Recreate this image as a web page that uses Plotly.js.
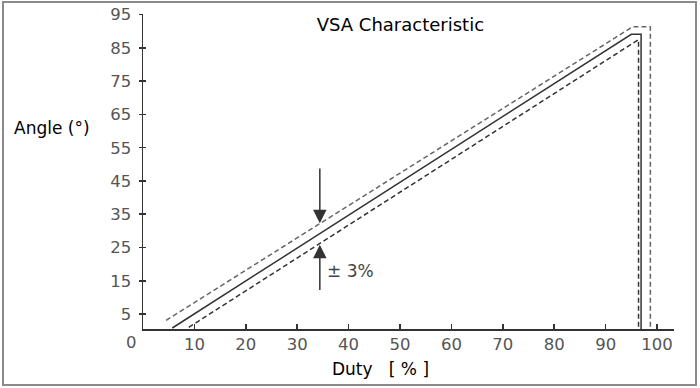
<!DOCTYPE html>
<html>
<head>
<meta charset="utf-8">
<script src="https://cdn.plot.ly/plotly-3.0.1.min.js"></script>
<style>
  html, body { margin: 0; padding: 0; background: #fff; }
  #wrap { position: relative; width: 700px; height: 388px; }
  #chart { width: 700px; height: 388px; }
  #frame { position: absolute; left: 2px; top: 1px; width: 695px; height: 385px;
           box-sizing: border-box; border: 2px solid #8a8a8a; pointer-events: none; }
</style>
</head>
<body>
<div id="wrap"><div id="chart"></div><div id="frame"></div></div>
<script>
// ---- data ----
const centerX = [5.7, 95.0, 96.9, 96.9];
const centerY = [0.8, 89.1, 89.1, 0.5];
const upperX  = [4.5, 95.3, 98.7, 98.7];
const upperY  = [3.1, 91.4, 91.4, 0.5];
const lowerX  = [8.9, 96.4, 96.4];
const lowerY  = [1.0, 87.5, 0.5];

const xTickVals = [10, 20, 30, 40, 50, 60, 70, 80, 90, 100];
const yTickVals = [5, 15, 25, 35, 45, 55, 65, 75, 85, 95];

const arrowX = 34.4;
const arrowDownFrom = 49.2, arrowDownTo = 32.3;
const arrowUpFrom = 11.8, arrowUpTo = 25.8;
const tolLabel = '± 3%';
const tolLabelX = 35.4, tolLabelY = 17.8;

const titleText = 'VSA Characteristic';
const xTitle = 'Duty\u00a0\u00a0\u00a0[ % ]';
const yTitle = 'Angle (°)';
const originLabel = '0';

const FONT = 'DejaVu Sans, Verdana, sans-serif';

const traces = [
  { x: upperX, y: upperY, mode: 'lines', line: { color: '#666', width: 1.5, dash: '5px,3px' }, hoverinfo: 'skip' },
  { x: lowerX, y: lowerY, mode: 'lines', line: { color: '#333', width: 1.5, dash: '5px,3px' }, hoverinfo: 'skip' },
  { x: centerX, y: centerY, mode: 'lines', line: { color: '#333', width: 1.5 }, hoverinfo: 'skip' },
  { x: [null], y: [null], yaxis: 'y2', mode: 'lines', hoverinfo: 'skip' }
];

const yRange = [0.5, 95.2];

const layout = {
  width: 700, height: 388,
  margin: { l: 142.7, r: 26, t: 13.7, b: 58.7 },
  paper_bgcolor: '#fff', plot_bgcolor: '#fff',
  showlegend: false,
  font: { family: FONT, color: '#000' },
  title: {
    text: titleText,
    font: { family: FONT, size: 18, color: '#000' },
    xref: 'container', x: 0.572, xanchor: 'center',
    yref: 'container', y: 0.937, yanchor: 'middle'
  },
  xaxis: {
    range: [0, 103.3], showgrid: false, zeroline: false,
    showline: true, linecolor: '#333', linewidth: 1.5,
    tickmode: 'array', tickvals: xTickVals,
    ticks: 'inside', ticklen: 5, tickwidth: 1.5, tickcolor: '#333',
    tickfont: { family: FONT, size: 16.5, color: '#555' },
    fixedrange: true
  },
  yaxis: {
    range: yRange, showgrid: false, zeroline: false,
    showline: true, linecolor: '#333', linewidth: 1.5,
    tickmode: 'array', tickvals: yTickVals,
    ticks: 'outside', ticklen: 3, tickwidth: 1.5, tickcolor: '#333',
    ticklabelstandoff: 4,
    tickfont: { family: FONT, size: 16.5, color: '#555' },
    fixedrange: true
  },
  yaxis2: {
    overlaying: 'y', range: yRange, showgrid: false, zeroline: false,
    showline: false, tickmode: 'array', tickvals: yTickVals,
    ticks: 'inside', ticklen: 3, tickwidth: 1.5, tickcolor: '#333',
    showticklabels: false, fixedrange: true
  },
  annotations: [
    { x: arrowX, y: arrowDownTo, ax: arrowX, ay: arrowDownFrom, xref: 'x', yref: 'y', axref: 'x', ayref: 'y',
      showarrow: true, arrowhead: 2, arrowsize: 1.8, arrowwidth: 1.5, arrowcolor: '#333', text: '' },
    { x: arrowX, y: arrowUpTo, ax: arrowX, ay: arrowUpFrom, xref: 'x', yref: 'y', axref: 'x', ayref: 'y',
      showarrow: true, arrowhead: 2, arrowsize: 1.8, arrowwidth: 1.5, arrowcolor: '#333', text: '' },
    { x: tolLabelX, y: tolLabelY, xref: 'x', yref: 'y', xanchor: 'left', yanchor: 'middle',
      showarrow: false, text: tolLabel, font: { family: FONT, size: 17, color: '#444' } },
    { x: -0.172, y: 0.638, xref: 'paper', yref: 'paper', xanchor: 'center', yanchor: 'middle',
      showarrow: false, text: yTitle, font: { family: FONT, size: 17, color: '#000' } },
    { x: 0.448, y: -0.126, xref: 'paper', yref: 'paper', xanchor: 'center', yanchor: 'middle',
      showarrow: false, text: xTitle, font: { family: FONT, size: 17, color: '#000' } },
    { x: -0.021, y: -0.043, xref: 'paper', yref: 'paper', xanchor: 'center', yanchor: 'middle',
      showarrow: false, text: originLabel, font: { family: FONT, size: 16.5, color: '#555' } }
  ]
};

Plotly.newPlot('chart', traces, layout, { staticPlot: true, displayModeBar: false });
</script>
</body>
</html>
